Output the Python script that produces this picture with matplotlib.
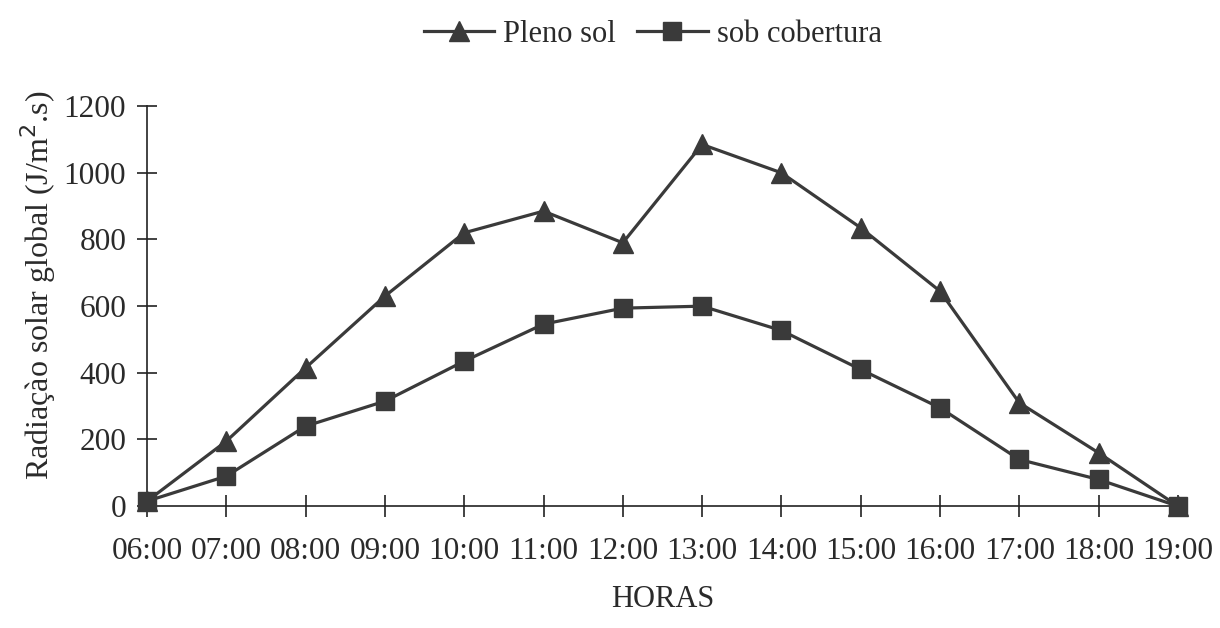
import matplotlib
matplotlib.use("Agg")
import matplotlib.pyplot as plt

hours = ["06:00", "07:00", "08:00", "09:00", "10:00", "11:00", "12:00",
         "13:00", "14:00", "15:00", "16:00", "17:00", "18:00", "19:00"]
pleno_sol = [15, 195, 415, 630, 820, 885, 790, 1085, 1000, 835, 645, 310, 160, 0]
sob_cobertura = [15, 90, 240, 315, 435, 546, 594, 600, 527, 410, 295, 140, 80, 0]
y_ticks = [0, 200, 400, 600, 800, 1000, 1200]

plt.rcParams['font.family'] = ['Liberation Serif', 'DejaVu Serif']
color = '#3a3a3a'
txt = '#2a2a2a'
fs = 22.5

fig = plt.figure(figsize=(12.2, 6.28), dpi=100)
ax = fig.add_axes([0.1205, 0.194, 0.845, 0.637])

x = list(range(len(hours)))
ax.plot(x, pleno_sol, color=color, lw=2.3, marker='^', ms=14,
        mfc=color, mec=color, label='Pleno sol', clip_on=False, zorder=3)
ax.plot(x, sob_cobertura, color=color, lw=2.3, marker='s', ms=13,
        mfc=color, mec=color, label='sob cobertura', clip_on=False, zorder=3)

ax.set_xlim(0, 13)
ax.set_ylim(0, 1200)
ax.set_xticks(x)
ax.set_xticklabels(hours)
ax.set_yticks(y_ticks)
for s in ['top', 'right']:
    ax.spines[s].set_visible(False)
for s in ['left', 'bottom']:
    ax.spines[s].set_color('#222222')
    ax.spines[s].set_linewidth(1.2)
ax.tick_params(axis='x', direction='inout', length=16, width=1.2,
               color='#222222', pad=14, labelsize=fs, labelcolor=txt)
ax.tick_params(axis='y', direction='inout', length=14, width=1.2,
               color='#222222', pad=8, labelsize=fs, labelcolor=txt)

ax.set_xlabel('HORAS', fontsize=22, color=txt, labelpad=14)
ax.set_ylabel('Radiaçào solar global (J/m$^2$.s)', fontsize=23, color=txt)
ax.yaxis.set_label_coords(-0.086, 0.553)

leg = fig.legend(loc='upper center', bbox_to_anchor=(0.535, 1.012), ncol=2,
                 frameon=False, fontsize=22, handlelength=2.3,
                 columnspacing=0.7, handletextpad=0.3)
for t in leg.get_texts():
    t.set_color(txt)

fig.savefig('out.png', dpi=100, facecolor='white')
